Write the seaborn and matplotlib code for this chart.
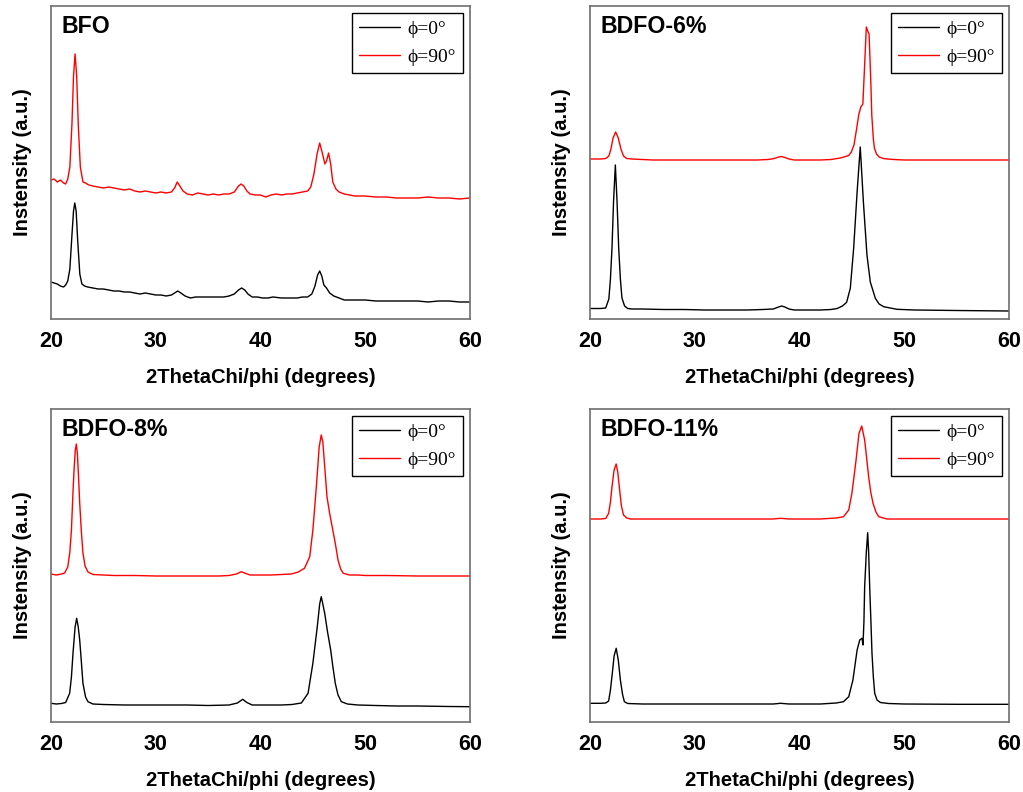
import matplotlib
matplotlib.use("Agg")
import matplotlib.pyplot as plt
import seaborn as sns
import pandas as pd
from matplotlib.ticker import MultipleLocator

# ---------------- data (intensity in arbitrary units) ----------------
panel_titles = ["BFO", "BDFO-6%", "BDFO-8%", "BDFO-11%"]
series_labels = ["ϕ=0°", "ϕ=90°"]
x_ticks = [20, 30, 40, 50, 60]

bfo_red_x = [20.0, 20.3, 20.6, 20.9, 21.2, 21.4, 21.6, 21.8, 22.0, 22.15, 22.3, 22.45, 22.6, 22.8, 23.05, 23.3,
             23.6, 24.0, 24.5, 25.0, 25.5, 26.0, 26.5, 27.0, 27.5, 28.0, 28.5, 29.0, 29.5, 30.0, 30.5, 31.0,
             31.5, 31.8, 32.05, 32.3, 32.6, 33.0, 33.5, 34.0, 34.5, 35.0, 35.5, 36.0, 36.5, 37.0, 37.5, 37.9,
             38.15, 38.4, 38.7, 39.0, 39.5, 40.0, 40.5, 41.0, 41.5, 42.0, 42.5, 43.0, 43.5, 44.0, 44.5, 44.8,
             45.1, 45.4, 45.65, 45.9, 46.15, 46.3, 46.5, 46.7, 46.9, 47.2, 47.5, 48.0, 48.5, 49.0, 50.0, 51.0,
             52.0, 53.0, 54.0, 55.0, 56.0, 57.0, 58.0, 59.0, 60.0]
bfo_red_y = [139, 140, 137, 139, 136, 135, 140, 152, 195, 243, 265, 243, 195, 152, 137, 136,
             134, 133, 132, 131, 132, 131, 130, 129, 130, 128, 127, 128, 127, 126, 127, 126,
             127, 131, 137, 133, 128, 125, 124, 126, 125, 124, 125, 124, 125, 125, 127, 133,
             135, 133, 128, 125, 124, 124, 122, 124, 125, 124, 125, 125, 126, 127, 128, 132,
             145, 165, 176, 166, 155, 158, 166, 155, 137, 130, 127, 125, 124, 123, 123, 122,
             122, 121, 121, 121, 122, 121, 121, 120, 121]
bfo_black_x = [20.0, 20.3, 20.6, 20.9, 21.2, 21.4, 21.6, 21.8, 22.0, 22.15, 22.27, 22.4, 22.55, 22.75, 22.95,
               23.2, 23.5, 24.0, 24.5, 25.0, 25.5, 26.0, 26.5, 27.0, 27.5, 28.0, 28.5, 29.0, 29.5, 30.0,
               30.5, 31.0, 31.5, 31.8, 32.1, 32.4, 32.8, 33.3, 33.8, 34.5, 35.0, 35.5, 36.0, 36.5, 37.0,
               37.5, 37.9, 38.2, 38.5, 38.8, 39.2, 39.7, 40.2, 40.7, 41.2, 42.0, 42.5, 43.0, 43.5, 44.0,
               44.5, 44.9, 45.2, 45.45, 45.65, 45.85, 46.05, 46.3, 46.6, 47.0, 47.5, 48.0, 49.0, 50.0,
               51.0, 52.0, 53.0, 54.0, 55.0, 56.0, 57.0, 58.0, 59.0, 60.0]
bfo_black_y = [37, 36, 35, 33, 32, 34, 38, 50, 84, 108, 116, 108, 78, 45, 35,
               33, 32, 31, 30, 30, 29, 28, 28, 27, 27, 26, 25, 26, 25, 24,
               24, 23, 24, 26, 28, 26, 23, 21, 22, 22, 22, 22, 22, 22, 23,
               25, 29, 31, 29, 25, 22, 22, 21, 21, 22, 21, 21, 21, 21, 22,
               22, 25, 33, 44, 48, 43, 34, 31, 26, 23, 21, 19, 19, 19,
               18, 18, 18, 18, 18, 17, 18, 18, 17, 17]

b6_red_x = [20.0, 21.0, 21.5, 21.8, 22.0, 22.2, 22.45, 22.7, 22.95, 23.2, 23.5, 24.0, 25.0, 26.0, 28.0, 30.0,
            32.0, 34.0, 36.0, 37.0, 37.6, 38.0, 38.3, 38.6, 39.0, 39.5, 40.0, 41.0, 42.0, 43.0, 43.9, 44.4,
            44.7, 44.95, 45.2, 45.45, 45.65, 45.85, 46.05, 46.2, 46.38, 46.55, 46.64, 46.8, 46.9, 47.05,
            47.15, 47.35, 47.6, 48.0, 48.4, 49.0, 50.0, 52.0, 55.0, 58.0, 60.0]
b6_red_y = [160, 160, 160.5, 163, 170, 181, 187, 181, 170, 163, 160.5, 160, 159.5, 159, 159, 159,
            159, 159, 159, 159.5, 160.5, 162, 162.5, 161.5, 160, 159, 159, 159, 159, 159.5, 161, 162.5,
            163.5, 167, 174, 190, 204, 212, 215, 250, 292, 287, 285, 240, 204, 180,
            171, 165, 162, 160.5, 160, 159.5, 159, 159, 159, 159, 159]
b6_black_x = [20.0, 21.0, 21.5, 21.8, 21.95, 22.1, 22.25, 22.42, 22.58, 22.74, 22.9, 23.05, 23.3, 23.6, 24.0,
              25.0, 27.0, 29.0, 31.0, 33.0, 35.0, 36.5, 37.5, 38.0, 38.3, 38.6, 39.0, 39.5, 40.0, 41.0,
              42.0, 43.0, 43.6, 44.1, 44.5, 44.85, 45.17, 45.5, 45.8, 46.1, 46.44, 46.76, 47.24, 47.6,
              48.04, 49.3, 51.0, 55.0, 60.0]
b6_black_y = [10.5, 10.5, 11, 20, 40, 71, 118, 154, 118, 71, 40, 21, 13, 10.5, 10,
              10, 9.5, 9.5, 9, 9, 9, 9.5, 10, 12, 13, 12, 10, 9, 9, 9,
              9, 9.5, 10.5, 13, 16.7, 30.7, 70.7, 127, 172, 117, 64, 37, 20.7, 15,
              12.3, 9.7, 9, 8.5, 8]

b8_red_x = [20.0, 20.5, 21.0, 21.3, 21.6, 21.8, 21.95, 22.1, 22.2, 22.32, 22.42, 22.52, 22.63, 22.74, 22.9,
            23.05, 23.25, 23.53, 24.0, 25.0, 26.0, 28.0, 30.0, 32.0, 34.0, 36.0, 37.0, 37.7, 38.17, 38.6,
            39.0, 39.5, 40.0, 41.0, 42.0, 42.94, 43.6, 44.2, 44.7, 45.0, 45.33, 45.6, 45.8, 45.95, 46.13,
            46.35, 46.6, 46.9, 47.15, 47.4, 47.65, 47.9, 48.5, 49.3, 50.0, 52.0, 55.0, 58.0, 60.0]
b8_red_y = [148, 147, 148, 149, 155, 170, 192, 230, 252, 272, 278, 268, 245, 219, 190,
            169, 156, 150, 147.5, 147, 146.5, 146.5, 146, 146, 146, 146, 146.5, 148, 150.3, 148.5,
            147, 147, 147, 147, 147.5, 148, 150, 153.7, 165.3, 192, 235.3, 275, 287, 280, 255.3,
            225, 208.7, 192, 178, 162, 153, 148.7, 147, 147, 146.5, 146.5, 146, 146, 146]
b8_black_x = [20.0, 20.5, 21.0, 21.4, 21.78, 21.95, 22.1, 22.3, 22.45, 22.6, 22.74, 22.9, 23.05, 23.3, 23.53,
              24.0, 25.0, 27.0, 29.0, 31.0, 33.0, 35.0, 37.0, 37.8, 38.3, 38.7, 39.2, 40.0, 41.0, 42.0,
              43.0, 43.9, 44.54, 45.0, 45.42, 45.65, 45.8, 45.95, 46.13, 46.4, 46.7, 46.9, 47.14, 47.4,
              47.72, 48.3, 49.3, 51.0, 53.0, 55.0, 58.0, 60.0]
b8_black_y = [18.7, 18, 18.5, 19.5, 28.7, 45, 68.7, 95, 103.7, 95, 82, 60, 38.7, 25, 20.3,
              18, 17.5, 17, 17, 17, 17, 16.5, 17, 19, 22.7, 19.5, 17, 17, 17, 17,
              17.5, 19, 28.7, 58.7, 95.3, 118, 125.3, 118, 108.7, 90, 72, 56, 38.7, 27,
              20.3, 18, 17, 16.5, 16, 16, 15.5, 15.3]

b11_red_x = [20.0, 21.0, 21.5, 21.78, 21.95, 22.1, 22.3, 22.5, 22.65, 22.83, 23.0, 23.2, 23.5, 23.85, 25.0,
             30.0, 35.0, 37.5, 38.2, 39.0, 40.0, 42.0, 43.5, 44.2, 44.7, 45.0, 45.2, 45.4, 45.68, 45.94,
             46.22, 46.4, 46.6, 46.8, 47.02, 47.3, 47.56, 48.35, 50.0, 55.0, 60.0]
b11_red_y = [203, 203, 203.5, 208.7, 220, 235.3, 252, 258, 250, 232, 216, 207, 204, 203, 203,
             203, 203, 203, 203.7, 203, 203, 203, 204, 205.3, 212, 228.7, 245, 262, 288.7, 296,
             282, 265, 245.3, 230, 218.7, 210, 205.3, 203, 203, 203, 203]
b11_black_x = [20.0, 21.0, 21.5, 21.78, 21.95, 22.13, 22.3, 22.5, 22.7, 22.9, 23.1, 23.28, 23.6, 25.0, 30.0,
               35.0, 37.5, 38.2, 39.0, 40.0, 42.0, 43.5, 44.2, 44.7, 45.1, 45.5, 45.75, 45.97, 46.06, 46.15,
               46.22, 46.38, 46.51, 46.6, 46.7, 46.82, 46.92, 47.05, 47.18, 47.4, 47.72, 48.5, 50.0, 55.0, 60.0]
b11_black_y = [18.7, 18.7, 19, 21, 32, 48.7, 66, 73.7, 62, 42, 28, 20.3, 18.5, 18, 18,
               18, 18, 18.7, 18, 18, 18, 19, 20.3, 25.3, 42, 72, 82, 83.7, 77, 100,
               135.3, 170, 189.3, 170, 135.3, 100, 68.7, 45, 28.7, 22, 19.5, 18.5, 18, 17.7, 17.7]

panels = [
    (bfo_black_x, bfo_black_y, bfo_red_x, bfo_red_y),
    (b6_black_x, b6_black_y, b6_red_x, b6_red_y),
    (b8_black_x, b8_black_y, b8_red_x, b8_red_y),
    (b11_black_x, b11_black_y, b11_red_x, b11_red_y),
]

# ---------------- styling ----------------
sns.set_style("white")
plt.rcParams["font.family"] = ["Liberation Sans", "DejaVu Sans"]
plt.rcParams["text.color"] = "black"
plt.rcParams["axes.labelcolor"] = "black"
plt.rcParams["xtick.color"] = "black"
plt.rcParams["xtick.labelcolor"] = "black"

W, H = 1023, 792
fig = plt.figure(figsize=(W / 100, H / 100), dpi=100)

# axes boxes in pixels: left, top, right, bottom
boxes = [(51, 6, 470, 319), (590, 6, 1009, 319), (51, 409, 470, 722), (590, 409, 1009, 722)]
palette = {series_labels[0]: "black", series_labels[1]: "#ff0000"}
spine_color = "#6e6e6e"

for (l, t, r, b), title, (bx, by, rx, ry) in zip(boxes, panel_titles, panels):
    ax = fig.add_axes([l / W, 1 - b / H, (r - l) / W, (b - t) / H])
    df = pd.concat([
        pd.DataFrame({"x": bx, "y": by, "phi": series_labels[0]}),
        pd.DataFrame({"x": rx, "y": ry, "phi": series_labels[1]}),
    ], ignore_index=True)
    sns.lineplot(data=df, x="x", y="y", hue="phi", palette=palette, estimator=None,
                 sort=False, linewidth=1.0, ax=ax)
    ax.set_xlim(20, 60)
    ax.set_ylim(0, b - t)
    ax.set_xticks(x_ticks)
    ax.xaxis.set_minor_locator(MultipleLocator(5))
    ax.set_yticks([])
    ax.tick_params(axis="x", which="major", direction="in", length=5, width=1.0,
                   color=spine_color, pad=8.5, labelsize=15.5, labelcolor="black")
    ax.tick_params(axis="x", which="minor", direction="in", length=3, width=1.0, color=spine_color)
    for lab in ax.get_xticklabels():
        lab.set_fontweight("bold")
    for sp in ax.spines.values():
        sp.set_color(spine_color)
        sp.set_linewidth(1.2)
    ax.set_xlabel("2ThetaChi/phi (degrees)", fontsize=14.5, fontweight="bold", labelpad=11.5,
                  color="black")
    ax.set_ylabel("Instensity (a.u.)", fontsize=14.5, fontweight="bold", labelpad=14, color="black")
    ax.text(0.026, 0.972, title, transform=ax.transAxes, ha="left", va="top",
            fontsize=16.7, fontweight="bold", color="black")
    handles, labels = ax.get_legend_handles_labels()
    leg = ax.legend(handles, labels, loc="upper right", frameon=True, fancybox=False,
                    edgecolor="black", framealpha=1, borderaxespad=0.35,
                    prop={"family": ["Liberation Serif", "DejaVu Serif"], "size": 14},
                    handlelength=2.1, handletextpad=0.35, labelspacing=0.5, borderpad=0.4)
    leg.get_frame().set_linewidth(1.0)
    for txt in leg.get_texts():
        txt.set_color("black")
    for line in leg.get_lines():
        line.set_linewidth(1.0)

fig.savefig("out.png", dpi=100)
